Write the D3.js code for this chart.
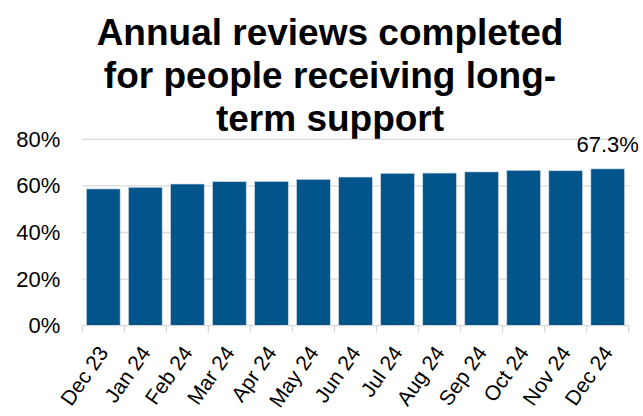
<!DOCTYPE html>
<html>
<head>
<meta charset="utf-8">
<script src="https://cdn.jsdelivr.net/npm/d3@7"></script>
<style>
  html, body { margin: 0; padding: 0; background: #fff; }
  svg { display: block; font-family: "Liberation Sans", Arial, sans-serif; }
</style>
</head>
<body>
<svg id="chart" width="643" height="416"></svg>
<script>
// Monthly share of annual reviews completed (%)
const months = ["Dec 23", "Jan 24", "Feb 24", "Mar 24", "Apr 24", "May 24", "Jun 24",
                "Jul 24", "Aug 24", "Sep 24", "Oct 24", "Nov 24", "Dec 24"];
const reviewsPct = [58.7, 59.4, 60.8, 61.8, 61.9, 62.8, 63.8, 65.4, 65.5, 66.0, 66.7, 66.5, 67.3];
const yTicks = [0, 20, 40, 60, 80];
const titleLines = ["Annual reviews completed", "for people receiving long-", "term support"];

const svg = d3.select("#chart");
const W = 643, H = 416;
const margin = { left: 82.3, right: W - 628.7, top: 139.3, bottom: H - 325.7 };

const x = d3.scaleBand()
  .domain(months)
  .range([margin.left, W - margin.right])
  .paddingInner(0.2)
  .paddingOuter(0.1);

const y = d3.scaleLinear()
  .domain([0, 80])
  .range([H - margin.bottom, margin.top]);

// Title
svg.append("g")
  .selectAll("text")
  .data(titleLines)
  .join("text")
  .attr("x", 330)
  .attr("y", (d, i) => 44.5 + i * 43)
  .attr("text-anchor", "middle")
  .attr("font-weight", "bold")
  .attr("font-size", 37)
  .attr("fill", "#000")
  .text(d => d);

// Gridlines
svg.append("g")
  .selectAll("line")
  .data(yTicks.filter(d => d > 0))
  .join("line")
  .attr("x1", margin.left)
  .attr("x2", W - margin.right)
  .attr("y1", d => y(d))
  .attr("y2", d => y(d))
  .attr("stroke", "#d9d9d9")
  .attr("stroke-width", 1.3);

// Y axis labels
const yAxis = svg.append("g")
  .attr("transform", `translate(${margin.left},0)`)
  .call(d3.axisLeft(y).tickValues(yTicks).tickFormat(d => d + "%").tickSize(0).tickPadding(22));
yAxis.select(".domain").remove();
yAxis.selectAll("text")
  .attr("font-size", 22)
  .attr("font-family", "Liberation Sans, Arial, sans-serif")
  .attr("fill", "#000");

// Bars
svg.append("g")
  .selectAll("rect")
  .data(months.map((m, i) => ({ m, v: reviewsPct[i] })))
  .join("rect")
  .attr("x", d => x(d.m))
  .attr("width", x.bandwidth())
  .attr("y", d => y(d.v))
  .attr("height", d => y(0) - y(d.v))
  .attr("fill", "#02558b")
  .attr("stroke", "#c9d6e2")
  .attr("stroke-width", 0.6);

// X axis with category separators
const xAxisG = svg.append("g")
  .attr("transform", `translate(0,${y(0)})`);
xAxisG.append("line")
  .attr("x1", margin.left).attr("x2", W - margin.right)
  .attr("y1", 0).attr("y2", 0)
  .attr("stroke", "#d9d9d9").attr("stroke-width", 1.3);
const bounds = d3.range(months.length + 1)
  .map(i => margin.left + i * (W - margin.left - margin.right) / months.length);
xAxisG.selectAll("line.sep")
  .data(bounds)
  .join("line")
  .attr("class", "sep")
  .attr("x1", d => d).attr("x2", d => d)
  .attr("y1", 0).attr("y2", 7)
  .attr("stroke", "#d9d9d9").attr("stroke-width", 1.3);

xAxisG.selectAll("text")
  .data(months)
  .join("text")
  .attr("transform", d => `translate(${x(d) + x.bandwidth() / 2 + 6},${27}) rotate(-55)`)
  .attr("text-anchor", "end")
  .attr("font-size", 21)
  .attr("fill", "#000")
  .text(d => d);

// Value label on the latest month
const last = months.length - 1;
svg.append("text")
  .attr("x", x(months[last]) + x.bandwidth() / 2)
  .attr("y", y(reviewsPct[last]) - 17)
  .attr("text-anchor", "middle")
  .attr("font-size", 22)
  .attr("fill", "#000")
  .text(d3.format(".1f")(reviewsPct[last]) + "%");
</script>
</body>
</html>
